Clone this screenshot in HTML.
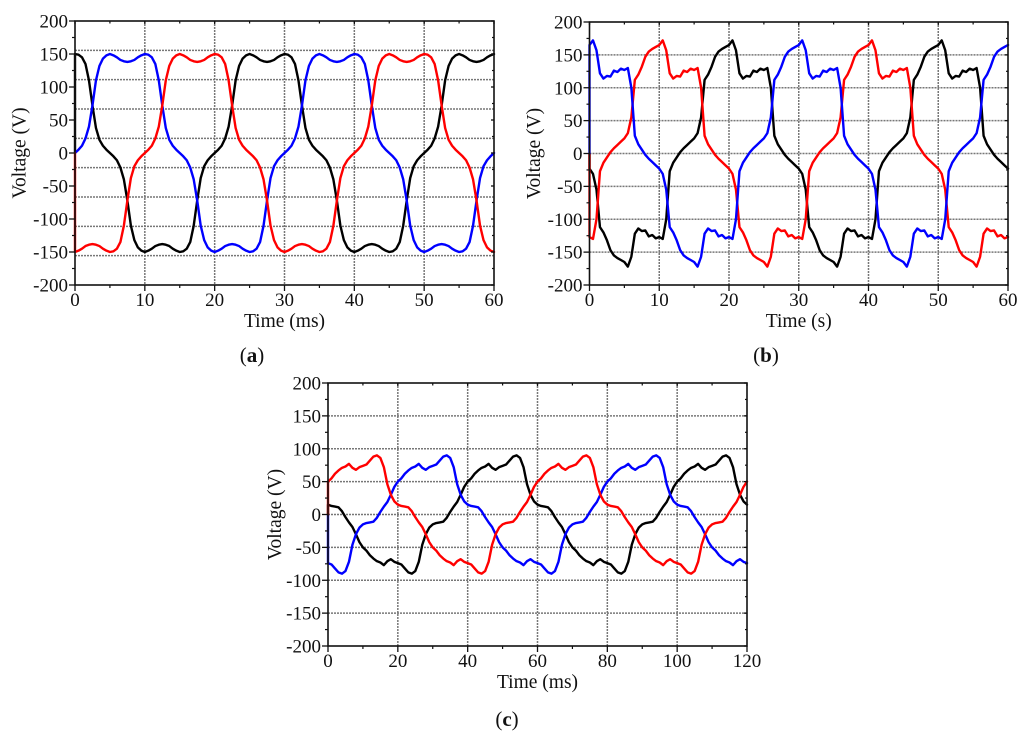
<!DOCTYPE html>
<html lang="en">
<head>
<meta charset="utf-8">
<title>Three-phase voltage waveforms</title>
<style>
html,body{margin:0;padding:0;background:#fff;width:1024px;height:741px;overflow:hidden}
svg{display:block;font-family:"Liberation Serif",serif;fill:#111}
text{stroke:none}
</style>
</head>
<body>
<svg id="chart" xmlns="http://www.w3.org/2000/svg" width="1024" height="741" viewBox="0 0 1024 741"></svg>
<script>
const yTickValues = [200, 150, 100, 50, 0, -50, -100, -150, -200];
const xTicksA = [0, 10, 20, 30, 40, 50, 60];
const xTicksB = [0, 10, 20, 30, 40, 50, 60];
const xTicksC = [0, 20, 40, 60, 80, 100, 120];
const sampleStepA = 0.5;
const sampleStepB = 0.5;
const sampleStepC = 1;
const seriesStart = 0;

const blackA = [150,149,145,135,110,72,38,20,11,5,0,-5,-11,-22,-40,-72,-110,-132,-143,-148,-150,-148,-145,-141,-139,-138,-139,-141,-145,-148,-150,-149,-145,-135,-110,-72,-38,-20,-11,-5,0,5,11,22,40,72,110,132,143,148,150,148,145,141,139,138,139,141,145,148,
150,149,145,135,110,72,38,20,11,5,0,-5,-11,-22,-40,-72,-110,-132,-143,-148,-150,-148,-145,-141,-139,-138,-139,-141,-145,-148,-150,-149,-145,-135,-110,-72,-38,-20,-11,-5,0,5,11,22,40,72,110,132,143,148,150,148,145,141,139,138,139,141,145,148,150];
const blueA = [0,5,11,22,40,72,110,132,143,148,150,148,145,141,139,138,139,141,145,148,150,149,145,135,110,72,38,20,11,5,0,-5,-11,-22,-40,-72,-110,-132,-143,-148,-150,-148,-145,-141,-139,-138,-139,-141,-145,-148,-150,-149,-145,-135,-110,-72,-38,-20,-11,-5,
0,5,11,22,40,72,110,132,143,148,150,148,145,141,139,138,139,141,145,148,150,149,145,135,110,72,38,20,11,5,0,-5,-11,-22,-40,-72,-110,-132,-143,-148,-150,-148,-145,-141,-139,-138,-139,-141,-145,-148,-150,-149,-145,-135,-110,-72,-38,-20,-11,-5,0];
const redA = [-150,-148,-145,-141,-139,-138,-139,-141,-145,-148,-150,-149,-145,-135,-110,-72,-38,-20,-11,-5,0,5,11,22,40,72,110,132,143,148,150,148,145,141,139,138,139,141,145,148,150,149,145,135,110,72,38,20,11,5,0,-5,-11,-22,-40,-72,-110,-132,-143,-148,
-150,-148,-145,-141,-139,-138,-139,-141,-145,-148,-150,-149,-145,-135,-110,-72,-38,-20,-11,-5,0,5,11,22,40,72,110,132,143,148,150,148,145,141,139,138,139,141,145,148,150,149,145,135,110,72,38,20,11,5,0,-5,-11,-22,-40,-72,-110,-132,-143,-148,-150];

const blackB = [-23,-31,-55,-112,-120,-132,-147,-155,-159,-162,-165,-172,-157,-122,-114,-118,-117,-126,-124,-129,-127,-130,-100,-27,-14,-6,2,8,13,18,23,31,55,112,120,132,147,155,159,162,165,172,157,122,114,118,117,126,124,129,127,130,100,27,14,6,-2,-8,-13,-18,
-23,-31,-55,-112,-120,-132,-147,-155,-159,-162,-165,-172,-157,-122,-114,-118,-117,-126,-124,-129,-127,-130,-100,-27,-14,-6,2,8,13,18,23,31,55,112,120,132,147,155,159,162,165,172,157,122,114,118,117,126,124,129,127,130,100,27,14,6,-2,-8,-13,-18,-23];
const redB = [-127,-130,-100,-27,-14,-6,2,8,13,18,23,31,55,112,120,132,147,155,159,162,165,172,157,122,114,118,117,126,124,129,127,130,100,27,14,6,-2,-8,-13,-18,-23,-31,-55,-112,-120,-132,-147,-155,-159,-162,-165,-172,-157,-122,-114,-118,-117,-126,-124,-129,
-127,-130,-100,-27,-14,-6,2,8,13,18,23,31,55,112,120,132,147,155,159,162,165,172,157,122,114,118,117,126,124,129,127,130,100,27,14,6,-2,-8,-13,-18,-23,-31,-55,-112,-120,-132,-147,-155,-159,-162,-165,-172,-157,-122,-114,-118,-117,-126,-124,-129,-127];
const blueB = [165,172,157,122,114,118,117,126,124,129,127,130,100,27,14,6,-2,-8,-13,-18,-23,-31,-55,-112,-120,-132,-147,-155,-159,-162,-165,-172,-157,-122,-114,-118,-117,-126,-124,-129,-127,-130,-100,-27,-14,-6,2,8,13,18,23,31,55,112,120,132,147,155,159,162,
165,172,157,122,114,118,117,126,124,129,127,130,100,27,14,6,-2,-8,-13,-18,-23,-31,-55,-112,-120,-132,-147,-155,-159,-162,-165,-172,-157,-122,-114,-118,-117,-126,-124,-129,-127,-130,-100,-27,-14,-6,2,8,13,18,23,31,55,112,120,132,147,155,159,162,165];

const blackC = [15,13,12,11,5,-4,-12,-19,-30,-42,-50,-55,-62,-67,-71,-73,-77,-71,-68,-72,-74,-76,-82,-88,-90,-86,-72,-46,-30,-20,-15,-13,-12,-11,-5,4,12,19,30,42,50,55,62,67,71,73,77,71,68,72,74,76,82,88,90,86,72,46,30,20,
15,13,12,11,5,-4,-12,-19,-30,-42,-50,-55,-62,-67,-71,-73,-77,-71,-68,-72,-74,-76,-82,-88,-90,-86,-72,-46,-30,-20,-15,-13,-12,-11,-5,4,12,19,30,42,50,55,62,67,71,73,77,71,68,72,74,76,82,88,90,86,72,46,30,20,15];
const blueC = [-74,-76,-82,-88,-90,-86,-72,-46,-30,-20,-15,-13,-12,-11,-5,4,12,19,30,42,50,55,62,67,71,73,77,71,68,72,74,76,82,88,90,86,72,46,30,20,15,13,12,11,5,-4,-12,-19,-30,-42,-50,-55,-62,-67,-71,-73,-77,-71,-68,-72,
-74,-76,-82,-88,-90,-86,-72,-46,-30,-20,-15,-13,-12,-11,-5,4,12,19,30,42,50,55,62,67,71,73,77,71,68,72,74,76,82,88,90,86,72,46,30,20,15,13,12,11,5,-4,-12,-19,-30,-42,-50,-55,-62,-67,-71,-73,-77,-71,-68,-72,-74];
const redC = [50,55,62,67,71,73,77,71,68,72,74,76,82,88,90,86,72,46,30,20,15,13,12,11,5,-4,-12,-19,-30,-42,-50,-55,-62,-67,-71,-73,-77,-71,-68,-72,-74,-76,-82,-88,-90,-86,-72,-46,-30,-20,-15,-13,-12,-11,-5,4,12,19,30,42,
50,55,62,67,71,73,77,71,68,72,74,76,82,88,90,86,72,46,30,20,15,13,12,11,5,-4,-12,-19,-30,-42,-50,-55,-62,-67,-71,-73,-77,-71,-68,-72,-74,-76,-82,-88,-90,-86,-72,-46,-30,-20,-15,-13,-12,-11,-5,4,12,19,30,42,50];

const NS = 'http://www.w3.org/2000/svg';
const root = document.getElementById('chart');

function make(parent, tag, attrs, label) {
  const el = document.createElementNS(NS, tag);
  for (const k in attrs) el.setAttribute(k, attrs[k]);
  if (label !== undefined) el.textContent = label;
  parent.appendChild(el);
  return el;
}

function drawPanel(p) {
  const g = make(root, 'g', {});
  
  

  const sx = t => p.left + (t - p.xTicks[0]) / (p.xTicks[p.xTicks.length - 1] - p.xTicks[0]) * (p.right - p.left);
  const sy = v => p.top + (200 - v) / 400 * (p.bottom - p.top);

  // gridlines
  p.xTicks.slice(1, -1).forEach(t => {
    const line = make(g, 'line', {x1: sx(t), x2: sx(t), y1: p.top, y2: p.bottom, stroke: '#777', 'stroke-width': 1.5, 'stroke-dasharray': '2 1'});
    
    
  });
  for (let i = 1; i < p.gridRows; i++) {
    const y = p.top + (p.bottom - p.top) * i / p.gridRows;
    const line = make(g, 'line', {x1: p.left, x2: p.right, y1: y, y2: y, stroke: '#777', 'stroke-width': 1.5, 'stroke-dasharray': '2 1'});
    
    
  }

  // series
  p.series.forEach(s => {
    let d = 'M' + sx(0).toFixed(2) + ' ' + sy(seriesStart).toFixed(2);
    s.values.forEach((v, i) => {
      d += 'L' + sx(i * p.step).toFixed(2) + ' ' + sy(v).toFixed(2);
    });
    const path = make(g, 'path', {d: d, fill: 'none', stroke: s.color, 'stroke-width': 2.4, 'stroke-linejoin': 'round', 'stroke-linecap': 'round'});
    
    
  });

  // frame
  const frame = make(g, 'rect', {x: p.left, y: p.top, width: p.right - p.left, height: p.bottom - p.top, fill: 'none', stroke: '#111', 'stroke-width': 1.6});
  
  

  // y ticks and labels
  yTickValues.forEach((v, i) => {
    const y = sy(v);
    make(g, 'line', {x1: p.left - 6, x2: p.left, y1: y, y2: y, stroke: '#111', 'stroke-width': 1.3});
    make(g, 'line', {x1: p.right - 3, x2: p.right, y1: y, y2: y, stroke: '#111', 'stroke-width': 1.3});
    if (i < yTickValues.length - 1) {
      const my = sy(v - 25);
      make(g, 'line', {x1: p.left - 3, x2: p.left, y1: my, y2: my, stroke: '#111', 'stroke-width': 1.2});
      make(g, 'line', {x1: p.right - 2, x2: p.right, y1: my, y2: my, stroke: '#111', 'stroke-width': 1.2});
    }
    const label = make(g, 'text', {x: p.left - 7, y: y + 6.5, 'text-anchor': 'end', 'font-size': 19}, String(v));
    
    
  });

  // x ticks and labels
  const halfTick = (p.xTicks[1] - p.xTicks[0]) / 2;
  p.xTicks.forEach((t, i) => {
    const x = sx(t);
    make(g, 'line', {x1: x, x2: x, y1: p.bottom, y2: p.bottom + 6, stroke: '#111', 'stroke-width': 1.3});
    make(g, 'line', {x1: x, x2: x, y1: p.top, y2: p.top + 3, stroke: '#111', 'stroke-width': 1.3});
    if (i < p.xTicks.length - 1) {
      const mx = sx(t + halfTick);
      make(g, 'line', {x1: mx, x2: mx, y1: p.bottom, y2: p.bottom + 3, stroke: '#111', 'stroke-width': 1.2});
      make(g, 'line', {x1: mx, x2: mx, y1: p.top, y2: p.top + 2.5, stroke: '#111', 'stroke-width': 1.2});
    }
    const label = make(g, 'text', {x: x, y: p.bottom + 21, 'text-anchor': 'middle', 'font-size': 19}, String(t));
    
    
  });

  // titles
  const xTitle = make(g, 'text', {x: (p.left + p.right) / 2, y: p.bottom + 42, 'text-anchor': 'middle', 'font-size': 19.5}, p.xTitle);
  
  

  const yMid = (p.top + p.bottom) / 2;
  const yTitle = make(g, 'text', {x: 0, y: 0, 'text-anchor': 'middle', 'font-size': 19.5, transform: 'translate(' + p.yTitleX + ' ' + yMid + ') rotate(-90)'}, 'Voltage (V)');
  
  

  const cap = make(g, 'text', {x: p.capX, y: p.capY, 'text-anchor': 'middle', 'font-size': 21});
  
  
  make(cap, 'tspan', {}, '(');
  make(cap, 'tspan', {'font-weight': 'bold'}, p.id);
  make(cap, 'tspan', {}, ')');
}

drawPanel({
  id: 'a', left: 75, right: 494, top: 21, bottom: 285, gridRows: 9, step: sampleStepA, xTicks: xTicksA,
  xTitle: 'Time (ms)', yTitleX: 25.5, capX: 252, capY: 362,
  series: [
    {name: 'black-phase', color: '#000', values: blackA},
    {name: 'blue-phase', color: '#0000ff', values: blueA},
    {name: 'red-phase', color: '#ff0000', values: redA}
  ]
});
drawPanel({
  id: 'b', left: 589.5, right: 1008, top: 22, bottom: 285, gridRows: 8, step: sampleStepB, xTicks: xTicksB,
  xTitle: 'Time (s)', yTitleX: 540, capX: 766, capY: 362,
  series: [
    {name: 'black-phase', color: '#000', values: blackB},
    {name: 'red-phase', color: '#ff0000', values: redB},
    {name: 'blue-phase', color: '#0000ff', values: blueB}
  ]
});
drawPanel({
  id: 'c', left: 328, right: 747, top: 383, bottom: 646, gridRows: 8, step: sampleStepC, xTicks: xTicksC,
  xTitle: 'Time (ms)', yTitleX: 281, capX: 507, capY: 726,
  series: [
    {name: 'black-phase', color: '#000', values: blackC},
    {name: 'blue-phase', color: '#0000ff', values: blueC},
    {name: 'red-phase', color: '#ff0000', values: redC}
  ]
});
</script>
</body>
</html>
